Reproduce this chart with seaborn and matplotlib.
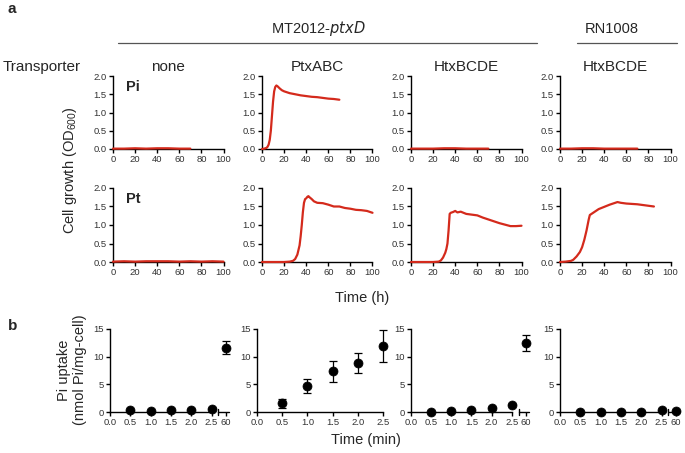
import numpy as np
import pandas as pd
import matplotlib
matplotlib.use('Agg')
import matplotlib.pyplot as plt
import matplotlib.transforms as mtransforms
import seaborn as sns

# ---- panel a: growth curves (time in h, OD600) ----
col_titles = ['none', 'PtxABC', 'HtxBCDE', 'HtxBCDE']
row_titles = ['Pi', 'Pt']
growth_ticks = [0, 20, 40, 60, 80, 100]
od_ticks = [0.0, 0.5, 1.0, 1.5, 2.0]

flat_time_70 = [0, 10, 20, 30, 40, 50, 60, 70]
flat_time_100 = [0, 10, 20, 30, 40, 50, 60, 70, 80, 90, 100]

pi_none_od = [0.01, 0.01, 0.02, 0.01, 0.02, 0.02, 0.01, 0.01]
pi_ptx_time = [0, 2, 4, 5, 6, 7, 8, 9, 10, 11, 12, 13, 14, 16, 18, 20, 25, 30, 35, 40, 45, 50, 55, 60, 65, 70]
pi_ptx_od = [0.0, 0.01, 0.03, 0.06, 0.12, 0.25, 0.5, 0.9, 1.3, 1.58, 1.7, 1.74, 1.72, 1.66, 1.61, 1.58, 1.53, 1.5, 1.47, 1.45, 1.43, 1.42, 1.4, 1.38, 1.37, 1.35]
pi_htx_od = [0.01, 0.01, 0.01, 0.02, 0.02, 0.01, 0.01, 0.01]
pi_rn_od = [0.01, 0.01, 0.02, 0.02, 0.01, 0.01, 0.01, 0.01]

pt_none_od = [0.01, 0.02, 0.01, 0.02, 0.02, 0.02, 0.01, 0.02, 0.01, 0.02, 0.01]
pt_ptx_time = [0, 10, 20, 25, 28, 30, 32, 34, 35, 36, 37, 38, 39, 40, 41, 42, 43, 45, 47, 50, 55, 60, 65, 70, 75, 80, 85, 90, 95, 100]
pt_ptx_od = [0.0, 0.0, 0.0, 0.01, 0.03, 0.08, 0.2, 0.45, 0.7, 1.0, 1.35, 1.6, 1.7, 1.72, 1.76, 1.78, 1.75, 1.7, 1.64, 1.6, 1.59, 1.55, 1.5, 1.5, 1.46, 1.44, 1.41, 1.4, 1.38, 1.33]
pt_htx_time = [0, 10, 20, 25, 27, 29, 31, 32, 33, 34, 35, 36, 38, 40, 42, 45, 50, 55, 60, 65, 70, 75, 80, 85, 90, 95, 100]
pt_htx_od = [0.0, 0.0, 0.0, 0.01, 0.04, 0.12, 0.25, 0.35, 0.5, 0.85, 1.3, 1.33, 1.35, 1.38, 1.34, 1.36, 1.3, 1.28, 1.26, 1.2, 1.15, 1.1, 1.05, 1.01, 0.97, 0.97, 0.98]
pt_rn_time = [0, 5, 10, 12, 15, 18, 20, 22, 24, 26, 27, 30, 35, 40, 45, 50, 52, 55, 60, 65, 70, 75, 80, 85]
pt_rn_od = [0.0, 0.01, 0.03, 0.06, 0.15, 0.27, 0.4, 0.6, 0.85, 1.15, 1.27, 1.33, 1.43, 1.49, 1.55, 1.6, 1.62, 1.6, 1.58, 1.57, 1.56, 1.54, 1.52, 1.5]

growth = [
    [(flat_time_70, pi_none_od), (pi_ptx_time, pi_ptx_od), (flat_time_70, pi_htx_od), (flat_time_70, pi_rn_od)],
    [(flat_time_100, pt_none_od), (pt_ptx_time, pt_ptx_od), (pt_htx_time, pt_htx_od), (pt_rn_time, pt_rn_od)],
]

# ---- panel b: Pi uptake (nmol Pi/mg-cell) ----
uptake_time = [0.5, 1.0, 1.5, 2.0, 2.5]
uptake_tick_labels = ['0.0', '0.5', '1.0', '1.5', '2.0', '2.5']
uptake_ticks = [0, 5, 10, 15]
uptake_none = [0.3, 0.15, 0.35, 0.4, 0.6]
uptake_none_err = [0.1, 0.1, 0.1, 0.1, 0.1]
uptake_ptx = [1.6, 4.7, 7.4, 8.9, 12.0]
uptake_ptx_err = [0.8, 1.2, 1.9, 1.8, 2.9]
uptake_htx = [0.0, 0.15, 0.35, 0.8, 1.3]
uptake_htx_err = [0.05, 0.05, 0.1, 0.1, 0.1]
uptake_rn = [0.0, 0.0, 0.05, 0.05, 0.3]
uptake_rn_err = [0.05, 0.05, 0.05, 0.05, 0.1]
uptake_60 = [11.6, None, 12.5, 0.1]
uptake_60_err = [1.2, None, 1.5, 0.1]
uptake = [(uptake_none, uptake_none_err), (uptake_ptx, uptake_ptx_err),
          (uptake_htx, uptake_htx_err), (uptake_rn, uptake_rn_err)]

RED = '#d42a1c'
TICK_COL = '#333333'
W, H = 685, 453

sns.set_theme(style='ticks')
plt.rcParams['font.family'] = ['Liberation Sans', 'DejaVu Sans']
plt.rcParams['axes.linewidth'] = 1.0

fig = plt.figure(figsize=(W / 100, H / 100), dpi=100)


def px_axes(left, top, right, bottom):
    return fig.add_axes([left / W, 1 - bottom / H, (right - left) / W, (bottom - top) / H])


def style(ax):
    sns.despine(ax=ax)
    ax.tick_params(direction='out', length=3, width=1.0, labelsize=6.8,
                   labelcolor=TICK_COL, pad=1.5, color='black')
    for s in ['left', 'bottom']:
        ax.spines[s].set_color('black')


col_left_a = [113, 262, 411, 560]
row_tb_a = [(76, 149), (188, 262)]
for r in range(2):
    for c in range(4):
        top, bot = row_tb_a[r]
        ax = px_axes(col_left_a[c], top, col_left_a[c] + 110.5, bot)
        t, od = growth[r][c]
        df = pd.DataFrame({'t': t, 'od': od})
        sns.lineplot(data=df, x='t', y='od', ax=ax, color=RED, lw=1.6,
                     estimator=None, clip_on=False, zorder=5)
        ax.set_xlim(0, 100)
        ax.set_ylim(0, 2)
        ax.set_xticks(growth_ticks)
        ax.set_yticks(od_ticks)
        ax.set_yticklabels([f'{v:.1f}' for v in od_ticks])
        ax.set_xlabel('')
        ax.set_ylabel('')
        style(ax)
        if c == 0:
            ax.text(0.12, 0.85, row_titles[r], transform=ax.transAxes,
                    fontsize=10.5, fontweight='bold', va='center')

BREAK_X = 2.85
col_left_b = [110, 257, 411, 560]
col_right_b = [229, 383, 529, 679]
for c in range(4):
    ax = px_axes(col_left_b[c], 329, col_right_b[c], 412)
    vals, errs = uptake[c]
    ax.errorbar(uptake_time, vals, yerr=errs, fmt='none', ecolor='black',
                elinewidth=0.9, capsize=3, capthick=0.9, clip_on=False, zorder=4)
    sns.scatterplot(x=uptake_time, y=vals, ax=ax, color='black', s=42,
                    edgecolor='black', clip_on=False, zorder=5)
    ticks = [0, 0.5, 1.0, 1.5, 2.0, 2.5]
    labels = list(uptake_tick_labels)
    if uptake_60[c] is not None:
        ax.errorbar([BREAK_X], [uptake_60[c]], yerr=[uptake_60_err[c]], fmt='none',
                    ecolor='black', elinewidth=0.9, capsize=3, capthick=0.9,
                    clip_on=False, zorder=4)
        sns.scatterplot(x=[BREAK_X], y=[uptake_60[c]], ax=ax, color='black', s=42,
                        edgecolor='black', clip_on=False, zorder=5)
        ticks.append(BREAK_X)
        labels.append('60')
        ax.set_xlim(0, 2.93)
        ax.spines['bottom'].set_bounds(0, 2.5)
        tr = mtransforms.blended_transform_factory(ax.transData, ax.transAxes)
        ax.plot([2.67, 2.93], [0, 0], color='black', lw=1.0, transform=tr, clip_on=False)
        ax.plot([2.67, 2.67], [-0.035, 0.035], color='black', lw=1.0, transform=tr, clip_on=False)
    else:
        ax.set_xlim(0, 2.5)
    ax.set_ylim(0, 15)
    ax.set_xticks(ticks)
    ax.set_xticklabels(labels)
    ax.set_yticks(uptake_ticks)
    style(ax)

# ---- figure-level labels ----
def ftext(x, y, s, **kw):
    fig.text(x / W, 1 - y / H, s, **kw)


ftext(8, 9, 'a', fontsize=11, fontweight='bold', va='center')
ftext(8, 326, 'b', fontsize=11, fontweight='bold', va='center')
ftext(318, 29, 'MT2012-$\\it{ptxD}$', fontsize=10.5, ha='center', va='center')
ftext(612, 29, 'RN1008', fontsize=10.5, ha='center', va='center')
fig.add_artist(plt.Line2D([118 / W, 537 / W], [1 - 43 / H, 1 - 43 / H], color='#555555', lw=0.9))
fig.add_artist(plt.Line2D([577 / W, 677 / W], [1 - 43 / H, 1 - 43 / H], color='#555555', lw=0.9))
ftext(3, 67, 'Transporter', fontsize=11, ha='left', va='center')
for c in range(4):
    ftext(col_left_a[c] + 55, 67, col_titles[c], fontsize=11, ha='center', va='center')
ftext(70, 170, 'Cell growth (OD$_{\\mathregular{600}}$)', fontsize=10.5, rotation=90,
      ha='center', va='center')
ftext(362, 298, 'Time (h)', fontsize=10.5, ha='center', va='center')
ftext(72, 370, 'Pi uptake\n(nmol Pi/mg-cell)', fontsize=10.5, rotation=90,
      ha='center', va='center', linespacing=1.1)
ftext(366, 440, 'Time (min)', fontsize=10.5, ha='center', va='center')

fig.savefig('out.png', dpi=100)
